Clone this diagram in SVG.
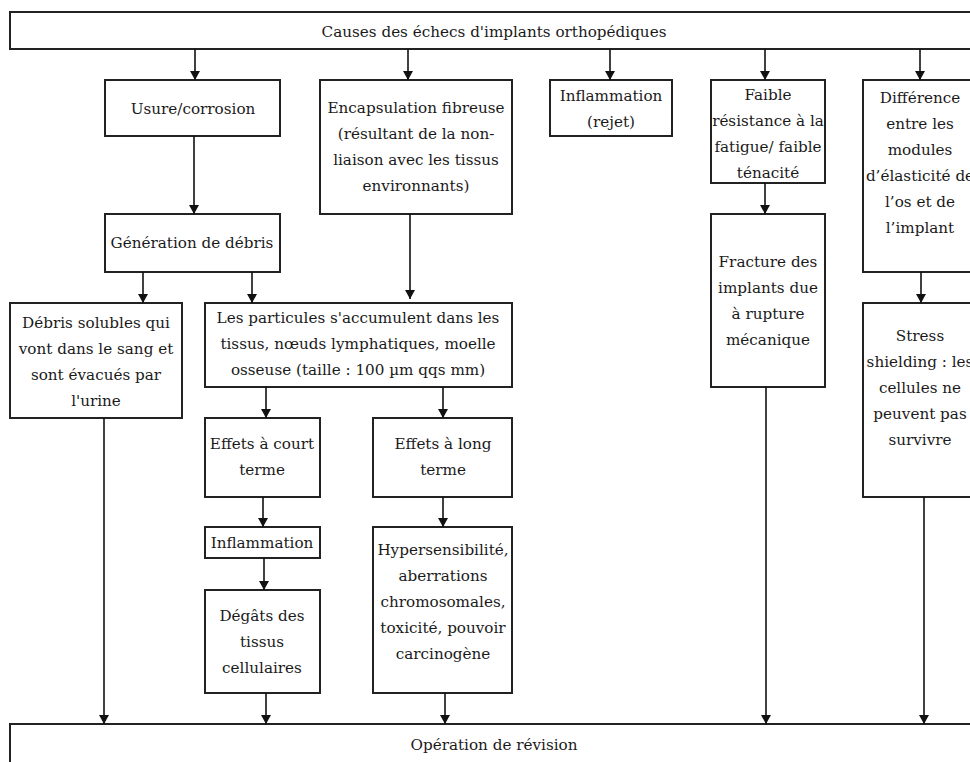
<svg xmlns="http://www.w3.org/2000/svg" width="970" height="762" viewBox="0 0 970 762">
<defs>
<marker id="arr" markerUnits="userSpaceOnUse" markerWidth="9" markerHeight="10" refX="9" refY="5" orient="auto">
<path d="M0,0 L9,5 L0,10 z" fill="#111"/>
</marker>
<style>
.box{fill:#fff;stroke:#222;stroke-width:2}
.t{font-family:"DejaVu Serif","Liberation Serif",serif;font-size:15.2px;fill:#1a1a1a;text-anchor:middle;dominant-baseline:central}
.c{stroke:#111;stroke-width:1.6;fill:none;marker-end:url(#arr)}
</style>
</defs>
<rect width="970" height="762" fill="#fff"/>
<g id="top"><rect class="box" x="10" y="12" width="975" height="37"/><text class="t" x="494" y="32">Causes des échecs d'implants orthopédiques</text></g>
<g id="usure"><rect class="box" x="105" y="80" width="175" height="56"/><text class="t" x="193" y="109">Usure/corrosion</text></g>
<g id="encapsulation"><rect class="box" x="320" y="80" width="192" height="134"/>
<text class="t" x="416" y="108">Encapsulation fibreuse</text><text class="t" x="416" y="134">(résultant de la non-</text><text class="t" x="416" y="160">liaison avec les tissus</text><text class="t" x="416" y="186">environnants)</text></g>
<g id="inflammation-rejet"><rect class="box" x="550" y="80" width="122" height="56"/><text class="t" x="611" y="96">Inflammation</text><text class="t" x="611" y="122">(rejet)</text></g>
<g id="faible"><rect class="box" x="711" y="80" width="114" height="103"/>
<text class="t" x="768" y="95">Faible</text><text class="t" x="768" y="121">résistance à la</text><text class="t" x="768" y="147">fatigue/ faible</text><text class="t" x="768" y="173">ténacité</text></g>
<g id="difference"><rect class="box" x="863" y="80" width="122" height="192"/>
<text class="t" x="920" y="98">Différence</text><text class="t" x="920" y="124">entre les</text><text class="t" x="920" y="150">modules</text><text class="t" x="920" y="176">d’élasticité de</text><text class="t" x="920" y="202">l’os et de</text><text class="t" x="920" y="228">l’implant</text></g>
<g id="generation"><rect class="box" x="105" y="214" width="175" height="58"/><text class="t" x="192" y="243">Génération de débris</text></g>
<g id="fracture"><rect class="box" x="711" y="214" width="114" height="173"/>
<text class="t" x="768" y="262">Fracture des</text><text class="t" x="768" y="288">implants due</text><text class="t" x="768" y="314">à rupture</text><text class="t" x="768" y="340">mécanique</text></g>
<g id="solubles"><rect class="box" x="10" y="303" width="172" height="115"/>
<text class="t" x="96" y="323">Débris solubles qui</text><text class="t" x="96" y="349">vont dans le sang et</text><text class="t" x="96" y="375">sont évacués par</text><text class="t" x="96" y="401">l'urine</text></g>
<g id="particules"><rect class="box" x="205" y="303" width="307" height="84"/>
<text class="t" x="358" y="318">Les particules s'accumulent dans les</text><text class="t" x="358" y="344">tissus, nœuds lymphatiques, moelle</text><text class="t" x="358" y="370">osseuse (taille : 100 µm qqs mm)</text></g>
<g id="stress"><rect class="box" x="863" y="303" width="122" height="194"/>
<text class="t" x="920" y="336">Stress</text><text class="t" x="920" y="362">shielding : les</text><text class="t" x="920" y="388">cellules ne</text><text class="t" x="920" y="414">peuvent pas</text><text class="t" x="920" y="440">survivre</text></g>
<g id="court"><rect class="box" x="205" y="418" width="115" height="79"/><text class="t" x="262" y="444">Effets à court</text><text class="t" x="262" y="470">terme</text></g>
<g id="long"><rect class="box" x="373" y="418" width="139" height="79"/><text class="t" x="443" y="444">Effets à long</text><text class="t" x="443" y="470">terme</text></g>
<g id="inflammation"><rect class="box" x="205" y="527" width="115" height="31"/><text class="t" x="262" y="543">Inflammation</text></g>
<g id="degats"><rect class="box" x="205" y="590" width="115" height="103"/>
<text class="t" x="262" y="616">Dégâts des</text><text class="t" x="262" y="642">tissus</text><text class="t" x="262" y="668">cellulaires</text></g>
<g id="hyper"><rect class="box" x="373" y="527" width="139" height="166"/>
<text class="t" x="443" y="550">Hypersensibilité,</text><text class="t" x="443" y="576">aberrations</text><text class="t" x="443" y="602">chromosomales,</text><text class="t" x="443" y="628">toxicité, pouvoir</text><text class="t" x="443" y="654">carcinogène</text></g>
<g id="revision"><rect class="box" x="10" y="724" width="975" height="50"/><text class="t" x="494" y="745">Opération de révision</text></g>
<g id="connectors">
<line class="c" x1="195" y1="49" x2="195" y2="80"/>
<line class="c" x1="408" y1="49" x2="408" y2="80"/>
<line class="c" x1="610" y1="49" x2="610" y2="80"/>
<line class="c" x1="765" y1="49" x2="765" y2="80"/>
<line class="c" x1="920" y1="49" x2="920" y2="80"/>
<line class="c" x1="194" y1="136" x2="194" y2="214"/>
<line class="c" x1="765" y1="183" x2="765" y2="214"/>
<line class="c" x1="921" y1="272" x2="921" y2="303"/>
<line class="c" x1="143" y1="272" x2="143" y2="303"/>
<line class="c" x1="252" y1="272" x2="252" y2="303"/>
<line class="c" x1="410" y1="214" x2="410" y2="299"/>
<line class="c" x1="266" y1="387" x2="266" y2="418"/>
<line class="c" x1="443" y1="387" x2="443" y2="418"/>
<line class="c" x1="263" y1="497" x2="263" y2="527"/>
<line class="c" x1="264" y1="558" x2="264" y2="590"/>
<line class="c" x1="443" y1="497" x2="443" y2="527"/>
<line class="c" x1="104" y1="418" x2="104" y2="724"/>
<line class="c" x1="266" y1="693" x2="266" y2="724"/>
<line class="c" x1="445" y1="693" x2="445" y2="724"/>
<line class="c" x1="766" y1="387" x2="766" y2="724"/>
<line class="c" x1="924" y1="497" x2="924" y2="724"/>
</g>
</svg>
